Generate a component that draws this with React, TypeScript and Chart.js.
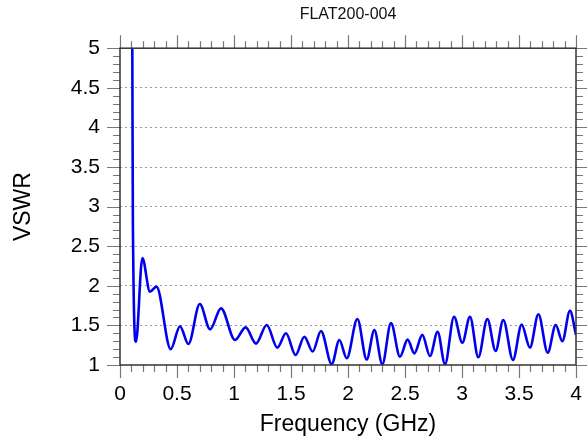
import React, { useEffect, useRef } from "react";
import { Chart, registerables } from "chart.js";

Chart.register(...registerables);

// ---- data ----
const TITLE = "FLAT200-004";
const X_TITLE = "Frequency (GHz)";
const Y_TITLE = "VSWR";

const freqGHz = [
  0.108, 0.113, 0.14, 0.196, 0.263, 0.32, 0.445, 0.526, 0.6, 0.7, 0.79, 0.886,
  1.009, 1.102, 1.193, 1.287, 1.38, 1.456, 1.54, 1.617, 1.69, 1.763, 1.857,
  1.924, 1.989, 2.082, 2.164, 2.231, 2.301, 2.377, 2.456, 2.523, 2.582, 2.652,
  2.719, 2.786, 2.851, 2.93, 3.003, 3.07, 3.143, 3.222, 3.295, 3.362, 3.447,
  3.523, 3.596, 3.67, 3.752, 3.822, 3.88, 3.947, 4.0,
];
const vswr = [
  5.0, 2.8, 1.29, 2.35, 1.925, 1.99, 1.2, 1.49, 1.265, 1.77, 1.45, 1.715,
  1.315, 1.475, 1.27, 1.505, 1.22, 1.4, 1.126, 1.357, 1.17, 1.43, 1.01,
  1.315, 1.085, 1.58, 1.07, 1.44, 1.01, 1.53, 1.105, 1.32, 1.147, 1.38,
  1.113, 1.42, 1.01, 1.61, 1.28, 1.61, 1.097, 1.58, 1.177, 1.568, 1.063,
  1.51, 1.22, 1.64, 1.155, 1.505, 1.3, 1.685, 1.38,
];

const X_MIN = 0, X_MAX = 4, X_MAJOR = 0.5, X_MINOR = 0.1;
const Y_MIN = 1, Y_MAX = 5, Y_MAJOR = 0.5, Y_MINOR = 0.1;

const FONT = "'Liberation Sans', Arial, Helvetica, sans-serif";
const LINE_COLOR = "#0000ee";
const AXIS_COLOR = "#333333";
const TICK_COLOR = "#777777";
const GRID_COLOR = "#9a9a9a";

const fmt = (v: any) => String(Math.round(Number(v) * 10) / 10);

const frameTicks = {
  id: "frameTicks",
  afterDraw(chart: any) {
    const { ctx, chartArea: a, scales } = chart;
    const xs = scales.x, ys = scales.y;
    ctx.save();
    ctx.strokeStyle = TICK_COLOR;
    ctx.lineWidth = 1.2;
    const nx = Math.round((X_MAX - X_MIN) / X_MINOR);
    const perX = Math.round(X_MAJOR / X_MINOR);
    for (let i = 0; i <= nx; i++) {
      const v = X_MIN + i * X_MINOR;
      const px = Math.round(xs.getPixelForValue(v)) + 0.5;
      const len = i % perX === 0 ? 13 : 7;
      ctx.beginPath();
      ctx.moveTo(px, a.top);
      ctx.lineTo(px, a.top - len);
      ctx.moveTo(px, a.bottom);
      ctx.lineTo(px, a.bottom + len);
      ctx.stroke();
    }
    const ny = Math.round((Y_MAX - Y_MIN) / Y_MINOR);
    const perY = Math.round(Y_MAJOR / Y_MINOR);
    for (let i = 0; i <= ny; i++) {
      const v = Y_MIN + i * Y_MINOR;
      const py = Math.round(ys.getPixelForValue(v)) + 0.5;
      const len = i % perY === 0 ? 13 : 7;
      ctx.beginPath();
      ctx.moveTo(a.left, py);
      ctx.lineTo(a.left - len, py);
      ctx.moveTo(a.right, py);
      ctx.lineTo(a.right + len, py);
      ctx.stroke();
    }
    ctx.strokeStyle = AXIS_COLOR;
    ctx.lineWidth = 1.5;
    ctx.strokeRect(a.left, a.top, a.right - a.left, a.bottom - a.top);
    ctx.restore();
  },
};

export default function App() {
  const ref = useRef<HTMLCanvasElement | null>(null);
  useEffect(() => {
    if (!ref.current) return;
    const points = freqGHz.map((f, i) => ({ x: f, y: vswr[i] }));
    const chart = new Chart(ref.current, {
      type: "line",
      data: {
        datasets: [
          {
            data: points,
            borderColor: LINE_COLOR,
            borderWidth: 2.6,
            pointRadius: 0,
            cubicInterpolationMode: "monotone",
            fill: false,
          },
        ],
      },
      options: {
        animation: false,
        responsive: false,
        layout: { padding: { top: 0, right: 11, left: 0, bottom: 0 } },
        plugins: {
          legend: { display: false },
          tooltip: { enabled: false },
          title: {
            display: true,
            text: TITLE,
            fullSize: false,
            color: "#111",
            font: { family: FONT, size: 16, weight: "normal" },
            padding: { top: 5, bottom: 24 },
          },
        },
        scales: {
          x: {
            type: "linear",
            min: X_MIN,
            max: X_MAX,
            afterFit: (s: any) => {
              s.height = 77;
              s.paddingLeft = 0;
              s.paddingRight = 0;
            },
            ticks: {
              stepSize: X_MAJOR,
              color: "#000",
              padding: 17,
              maxRotation: 0,
              font: { family: FONT, size: 21 },
              callback: fmt,
            },
            grid: { display: false, drawTicks: false },
            border: { display: false },
            title: {
              display: true,
              text: X_TITLE,
              color: "#000",
              font: { family: FONT, size: 23 },
              padding: { top: 0, bottom: 4 },
            },
          },
          y: {
            type: "linear",
            min: Y_MIN,
            max: Y_MAX,
            afterFit: (s: any) => {
              s.width = 120;
              s.paddingTop = 0;
              s.paddingBottom = 0;
            },
            ticks: {
              stepSize: Y_MAJOR,
              color: "#000",
              padding: 20,
              font: { family: FONT, size: 21 },
              callback: fmt,
            },
            grid: {
              drawTicks: false,
              lineWidth: 1,
              color: (c: any) =>
                c.tick && (c.tick.value === Y_MIN || c.tick.value === Y_MAX)
                  ? "rgba(0,0,0,0)"
                  : GRID_COLOR,
            },
            border: { display: false, dash: [2, 3] },
            title: {
              display: true,
              text: Y_TITLE,
              color: "#000",
              font: { family: FONT, size: 23 },
              padding: { top: 10, bottom: 0 },
            },
          },
        },
      },
      plugins: [frameTicks],
    });
    return () => chart.destroy();
  }, []);
  return (
    <div style={{ position: "absolute", left: 0, top: 0, width: 587, height: 442, background: "#fff" }}>
      <canvas ref={ref} width={587} height={442} style={{ display: "block" }} />
    </div>
  );
}
